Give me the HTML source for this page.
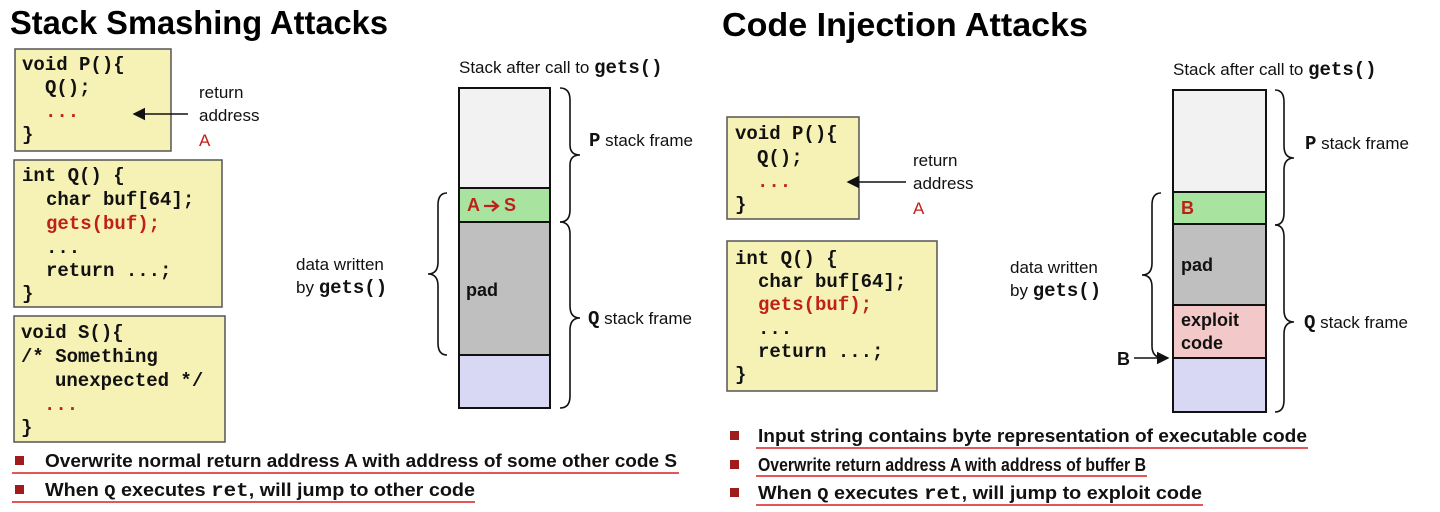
<!DOCTYPE html>
<html><head><meta charset="utf-8"><style>
html,body{margin:0;padding:0;background:#fff;}
svg{display:block;}
.t{font-family:"Liberation Sans",sans-serif;fill:#000;}
.c{font-family:"Liberation Mono",monospace;font-weight:bold;font-size:19px;fill:#111;}
.s{font-family:"Liberation Sans",sans-serif;font-size:17px;fill:#111;}
.b{font-family:"Liberation Sans",sans-serif;font-weight:bold;font-size:18px;fill:#111;}
.box{fill:#f6f1b4;stroke:#555;stroke-width:1.5;}
.br{fill:none;stroke:#111;stroke-width:1.6;}
.r{fill:#c0201a;}
</style></head><body>
<svg width="1440" height="512" viewBox="0 0 1440 512" xmlns="http://www.w3.org/2000/svg">
<defs><marker id="ah" markerWidth="8" markerHeight="8" refX="7" refY="4" orient="auto"><path d="M0,0 L8,4 L0,8 z" fill="#111"/></marker></defs>

<!-- LEFT -->
<text class="t" x="10" y="34" font-size="33" font-weight="bold" textLength="378" lengthAdjust="spacingAndGlyphs">Stack Smashing Attacks</text>

<rect class="box" x="15" y="49" width="156" height="102"/>
<text class="c" x="22" y="70">void P(){</text>
<text class="c" x="45" y="93">Q();</text>
<text class="c r" x="45" y="117">...</text>
<text class="c" x="22" y="140">}</text>

<text class="s" x="199" y="98">return</text>
<text class="s" x="199" y="121">address</text>
<text class="s r" x="199" y="146">A</text>
<line x1="188" y1="114" x2="134" y2="114" stroke="#111" stroke-width="1.6" marker-end="url(#ah)"/>

<rect class="box" x="14" y="160" width="208" height="147"/>
<text class="c" x="22" y="181">int Q() {</text>
<text class="c" x="46" y="205">char buf[64];</text>
<text class="c r" x="46" y="229">gets(buf);</text>
<text class="c" x="46" y="253">...</text>
<text class="c" x="46" y="276">return ...;</text>
<text class="c" x="22" y="299">}</text>

<rect class="box" x="14" y="316" width="211" height="126"/>
<text class="c" x="21" y="338">void S(){</text>
<text class="c" x="21" y="362">/* Something</text>
<text class="c" x="55" y="386">unexpected */</text>
<text class="c r" x="44" y="410">...</text>
<text class="c" x="21" y="433">}</text>

<rect x="15" y="456" width="9" height="9" fill="#a01c1c"/>
<text class="b" x="45" y="467" textLength="632" lengthAdjust="spacingAndGlyphs">Overwrite normal return address A with address of some other code S</text>
<line x1="12" y1="473" x2="679" y2="473" stroke="#d62020" stroke-width="1.6"/>
<rect x="15" y="485" width="9" height="9" fill="#a01c1c"/>
<text class="b" x="45" y="496" textLength="430" lengthAdjust="spacingAndGlyphs">When <tspan font-family="Liberation Mono" font-size="17">Q</tspan> executes  <tspan font-family="Liberation Mono" font-size="19">ret</tspan>, will jump to other code</text>
<line x1="12" y1="502" x2="475" y2="502" stroke="#d62020" stroke-width="1.6"/>

<text class="s" x="459" y="73">Stack after call to <tspan class="c" font-size="18">gets()</tspan></text>
<rect x="459" y="88" width="91" height="100" fill="#f2f2f2" stroke="#111" stroke-width="2"/>
<rect x="459" y="188" width="91" height="34" fill="#a9e3a0" stroke="#111" stroke-width="2"/>
<rect x="459" y="222" width="91" height="133" fill="#bfbfbf" stroke="#111" stroke-width="2"/>
<rect x="459" y="355" width="91" height="53" fill="#d8d8f4" stroke="#111" stroke-width="2"/>
<text class="b r" x="467" y="211" font-size="16">A</text>
<path d="M484,206 L497,206 M492,201 L498,206 L492,211" stroke="#c0201a" stroke-width="2.2" fill="none"/>
<text class="b r" x="504" y="211" font-size="16">S</text>
<text class="b" x="466" y="296" font-size="16">pad</text>

<path class="br" d="M560,88 Q570,88 570,100 L570,145 Q570,155 580,155 Q570,155 570,165 L570,210 Q570,222 560,222"/>
<path class="br" d="M560,222 Q570,222 570,234 L570,306 Q570,318 580,318 Q570,318 570,330 L570,396 Q570,408 560,408"/>
<path class="br" d="M447,193 Q438,193 438,205 L438,262 Q438,274 428,274 Q438,274 438,286 L438,343 Q438,355 447,355"/>
<text class="s" x="589" y="146"><tspan class="c" font-size="17">P</tspan>  stack frame</text>
<text class="s" x="588" y="324"><tspan class="c" font-size="17">Q</tspan> stack frame</text>
<text class="s" x="296" y="270">data written</text>
<text class="s" x="296" y="293">by <tspan class="c" font-size="18">gets()</tspan></text>

<!-- RIGHT -->
<text class="t" x="722" y="36" font-size="33" font-weight="bold" textLength="366" lengthAdjust="spacingAndGlyphs">Code Injection Attacks</text>

<rect class="box" x="727" y="117" width="132" height="102"/>
<text class="c" x="735" y="139">void P(){</text>
<text class="c" x="757" y="163">Q();</text>
<text class="c r" x="757" y="187">...</text>
<text class="c" x="735" y="210">}</text>
<text class="s" x="913" y="166">return</text>
<text class="s" x="913" y="189">address</text>
<text class="s r" x="913" y="214">A</text>
<line x1="906" y1="182" x2="848" y2="182" stroke="#111" stroke-width="1.6" marker-end="url(#ah)"/>

<rect class="box" x="727" y="241" width="210" height="150"/>
<text class="c" x="735" y="264">int Q() {</text>
<text class="c" x="758" y="287">char buf[64];</text>
<text class="c r" x="758" y="310">gets(buf);</text>
<text class="c" x="758" y="334">...</text>
<text class="c" x="758" y="357">return ...;</text>
<text class="c" x="735" y="380">}</text>

<text class="s" x="1173" y="75">Stack after call to <tspan class="c" font-size="18">gets()</tspan></text>
<rect x="1173" y="90" width="93" height="102" fill="#f2f2f2" stroke="#111" stroke-width="2"/>
<rect x="1173" y="192" width="93" height="32" fill="#a9e3a0" stroke="#111" stroke-width="2"/>
<rect x="1173" y="224" width="93" height="81" fill="#bfbfbf" stroke="#111" stroke-width="2"/>
<rect x="1173" y="305" width="93" height="53" fill="#f2c8c8" stroke="#111" stroke-width="2"/>
<rect x="1173" y="358" width="93" height="54" fill="#d8d8f4" stroke="#111" stroke-width="2"/>
<text class="b r" x="1181" y="214" font-size="16">B</text>
<text class="b" x="1181" y="271" font-size="16">pad</text>
<text class="b" x="1181" y="326" font-size="16">exploit</text>
<text class="b" x="1181" y="349" font-size="16">code</text>

<path class="br" d="M1275,90 Q1284,90 1284,102 L1284,146 Q1284,158 1294,158 Q1284,158 1284,170 L1284,213 Q1284,225 1275,225"/>
<path class="br" d="M1275,225 Q1284,225 1284,237 L1284,310 Q1284,322 1294,322 Q1284,322 1284,334 L1284,400 Q1284,412 1275,412"/>
<path class="br" d="M1161,193 Q1152,193 1152,205 L1152,263 Q1152,275 1142,275 Q1152,275 1152,287 L1152,346 Q1152,357 1162,358"/>
<text class="s" x="1305" y="149"><tspan class="c" font-size="17">P</tspan>  stack frame</text>
<text class="s" x="1304" y="328"><tspan class="c" font-size="17">Q</tspan> stack frame</text>
<text class="s" x="1010" y="273">data written</text>
<text class="s" x="1010" y="296">by <tspan class="c" font-size="18">gets()</tspan></text>
<text class="b" x="1117" y="365" font-size="16">B</text>
<line x1="1134" y1="358" x2="1168" y2="358" stroke="#111" stroke-width="1.6" marker-end="url(#ah)"/>

<rect x="730" y="431" width="9" height="9" fill="#a01c1c"/>
<text class="b" x="758" y="442" textLength="549" lengthAdjust="spacingAndGlyphs">Input string contains byte representation of executable code</text>
<line x1="756" y1="448" x2="1308" y2="448" stroke="#d62020" stroke-width="1.6"/>
<rect x="730" y="460" width="9" height="9" fill="#a01c1c"/>
<text class="b" x="758" y="471" textLength="388" lengthAdjust="spacingAndGlyphs">Overwrite return address A with address of buffer B</text>
<line x1="756" y1="476" x2="1147" y2="476" stroke="#d62020" stroke-width="1.6"/>
<rect x="730" y="488" width="9" height="9" fill="#a01c1c"/>
<text class="b" x="758" y="499" textLength="444" lengthAdjust="spacingAndGlyphs">When <tspan font-family="Liberation Mono" font-size="17">Q</tspan> executes  <tspan font-family="Liberation Mono" font-size="19">ret</tspan>, will jump to exploit code</text>
<line x1="756" y1="505" x2="1203" y2="505" stroke="#d62020" stroke-width="1.6"/>
</svg>
</body></html>
